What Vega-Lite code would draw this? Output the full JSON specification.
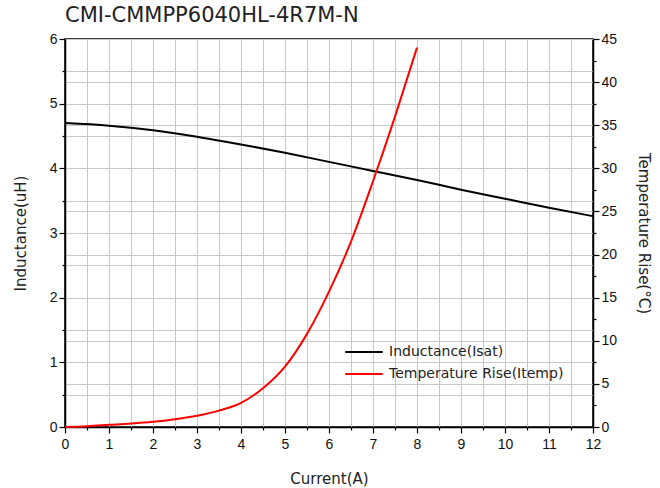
{
  "$schema": "https://vega.github.io/schema/vega-lite/v6.json",
  "width": 528,
  "height": 388,
  "autosize": {"type": "none"},
  "padding": {"left": 65, "top": 39, "right": 67, "bottom": 61},
  "background": "white",
  "title": {
    "text": "CMI-CMMPP6040HL-4R7M-N",
    "anchor": "start",
    "frame": "group",
    "offset": 6,
    "fontSize": 21,
    "fontWeight": "normal",
    "font": "DejaVu Sans",
    "color": "#222222"
  },
  "config": {
    "view": {"stroke": "black", "strokeWidth": 1.5},
    "axis": {
      "domainColor": "black",
      "domainWidth": 1.5,
      "tickColor": "black",
      "tickWidth": 1.2,
      "labelFont": "Liberation Sans",
      "labelFontSize": 14,
      "labelColor": "#111111",
      "labelFlush": false,
      "labelOverlap": false,
      "titleFont": "DejaVu Sans",
      "titleFontSize": 15,
      "titleFontWeight": "normal",
      "titleColor": "#222222",
      "gridColor": "#c8c8c8",
      "gridWidth": 1
    }
  },
  "data": {
    "values": [
      {"current": 0, "value": 4.70, "series": "Inductance(Isat)"},
      {"current": 1, "value": 4.66, "series": "Inductance(Isat)"},
      {"current": 2, "value": 4.59, "series": "Inductance(Isat)"},
      {"current": 3, "value": 4.49, "series": "Inductance(Isat)"},
      {"current": 4, "value": 4.37, "series": "Inductance(Isat)"},
      {"current": 5, "value": 4.24, "series": "Inductance(Isat)"},
      {"current": 6, "value": 4.10, "series": "Inductance(Isat)"},
      {"current": 7, "value": 3.96, "series": "Inductance(Isat)"},
      {"current": 8, "value": 3.82, "series": "Inductance(Isat)"},
      {"current": 9, "value": 3.67, "series": "Inductance(Isat)"},
      {"current": 10, "value": 3.53, "series": "Inductance(Isat)"},
      {"current": 11, "value": 3.39, "series": "Inductance(Isat)"},
      {"current": 12, "value": 3.26, "series": "Inductance(Isat)"},
      {"current": 0, "value": 0, "series": "Temperature Rise(Itemp)"},
      {"current": 0.5, "value": 0.1, "series": "Temperature Rise(Itemp)"},
      {"current": 1, "value": 0.25, "series": "Temperature Rise(Itemp)"},
      {"current": 1.5, "value": 0.4, "series": "Temperature Rise(Itemp)"},
      {"current": 2, "value": 0.6, "series": "Temperature Rise(Itemp)"},
      {"current": 2.5, "value": 0.9, "series": "Temperature Rise(Itemp)"},
      {"current": 3, "value": 1.3, "series": "Temperature Rise(Itemp)"},
      {"current": 3.5, "value": 1.9, "series": "Temperature Rise(Itemp)"},
      {"current": 4, "value": 2.8, "series": "Temperature Rise(Itemp)"},
      {"current": 4.5, "value": 4.5, "series": "Temperature Rise(Itemp)"},
      {"current": 5, "value": 7.0, "series": "Temperature Rise(Itemp)"},
      {"current": 5.5, "value": 10.8, "series": "Temperature Rise(Itemp)"},
      {"current": 6, "value": 15.7, "series": "Temperature Rise(Itemp)"},
      {"current": 6.5, "value": 21.5, "series": "Temperature Rise(Itemp)"},
      {"current": 7, "value": 28.5, "series": "Temperature Rise(Itemp)"},
      {"current": 7.5, "value": 36.0, "series": "Temperature Rise(Itemp)"},
      {"current": 8, "value": 44.0, "series": "Temperature Rise(Itemp)"}
    ]
  },
  "encoding": {
    "x": {
      "field": "current",
      "type": "quantitative",
      "scale": {"domain": [0, 12], "nice": false},
      "axis": {
        "title": "Current(A)",
        "values": [0,0.5,1,1.5,2,2.5,3,3.5,4,4.5,5,5.5,6,6.5,7,7.5,8,8.5,9,9.5,10,10.5,11,11.5,12],
        "labelExpr": "datum.value % 1 === 0 ? format(datum.value, 'd') : ''",
        "tickSize": {"condition": {"test": "datum.value % 1 === 0", "value": 6}, "value": 3},
        "grid": true,
        "labelPadding": 4,
        "titlePadding": 20
      }
    },
    "color": {
      "field": "series",
      "type": "nominal",
      "scale": {"domain": ["Inductance(Isat)", "Temperature Rise(Itemp)"], "range": ["black", "red"]},
      "legend": {
        "title": null,
        "orient": "none",
        "legendX": 279,
        "legendY": 303,
        "symbolType": "stroke",
        "symbolSize": 1400,
        "symbolStrokeWidth": 2,
        "clipHeight": 20,
        "rowPadding": 2,
        "labelFont": "DejaVu Sans",
        "labelFontSize": 14,
        "labelLimit": 300,
        "labelColor": "#222222",
        "labelOffset": 5
      }
    }
  },
  "layer": [
    {
      "transform": [{"filter": "datum.series === 'Inductance(Isat)'"}],
      "mark": {"type": "line", "interpolate": "monotone", "strokeWidth": 2},
      "encoding": {
        "y": {
          "field": "value",
          "type": "quantitative",
          "scale": {"domain": [0, 6], "nice": false},
          "axis": {
            "title": "Inductance(uH)",
            "orient": "left",
            "values": [0,0.5,1,1.5,2,2.5,3,3.5,4,4.5,5,5.5,6],
            "labelExpr": "datum.value % 1 === 0 ? format(datum.value, 'd') : ''",
            "tickSize": {"condition": {"test": "datum.value % 1 === 0", "value": 6}, "value": 3},
            "grid": true,
            "titlePadding": 21
          }
        }
      }
    },
    {
      "transform": [{"filter": "datum.series === 'Temperature Rise(Itemp)'"}],
      "mark": {"type": "line", "interpolate": "monotone", "strokeWidth": 2},
      "encoding": {
        "y": {
          "field": "value",
          "type": "quantitative",
          "scale": {"domain": [0, 45], "nice": false},
          "axis": {
            "title": "Temperature Rise(°C)",
            "orient": "right",
            "values": [0,2.5,5,7.5,10,12.5,15,17.5,20,22.5,25,27.5,30,32.5,35,37.5,40,42.5,45],
            "labelExpr": "datum.value % 5 === 0 ? format(datum.value, 'd') : ''",
            "tickSize": {"condition": {"test": "datum.value % 5 === 0", "value": 6}, "value": 3},
            "grid": true,
            "gridOpacity": {"condition": {"test": "datum.value % 5 === 0", "value": 1}, "value": 0},
            "titlePadding": 19
          }
        }
      }
    }
  ],
  "resolve": {"scale": {"y": "independent"}}
}
